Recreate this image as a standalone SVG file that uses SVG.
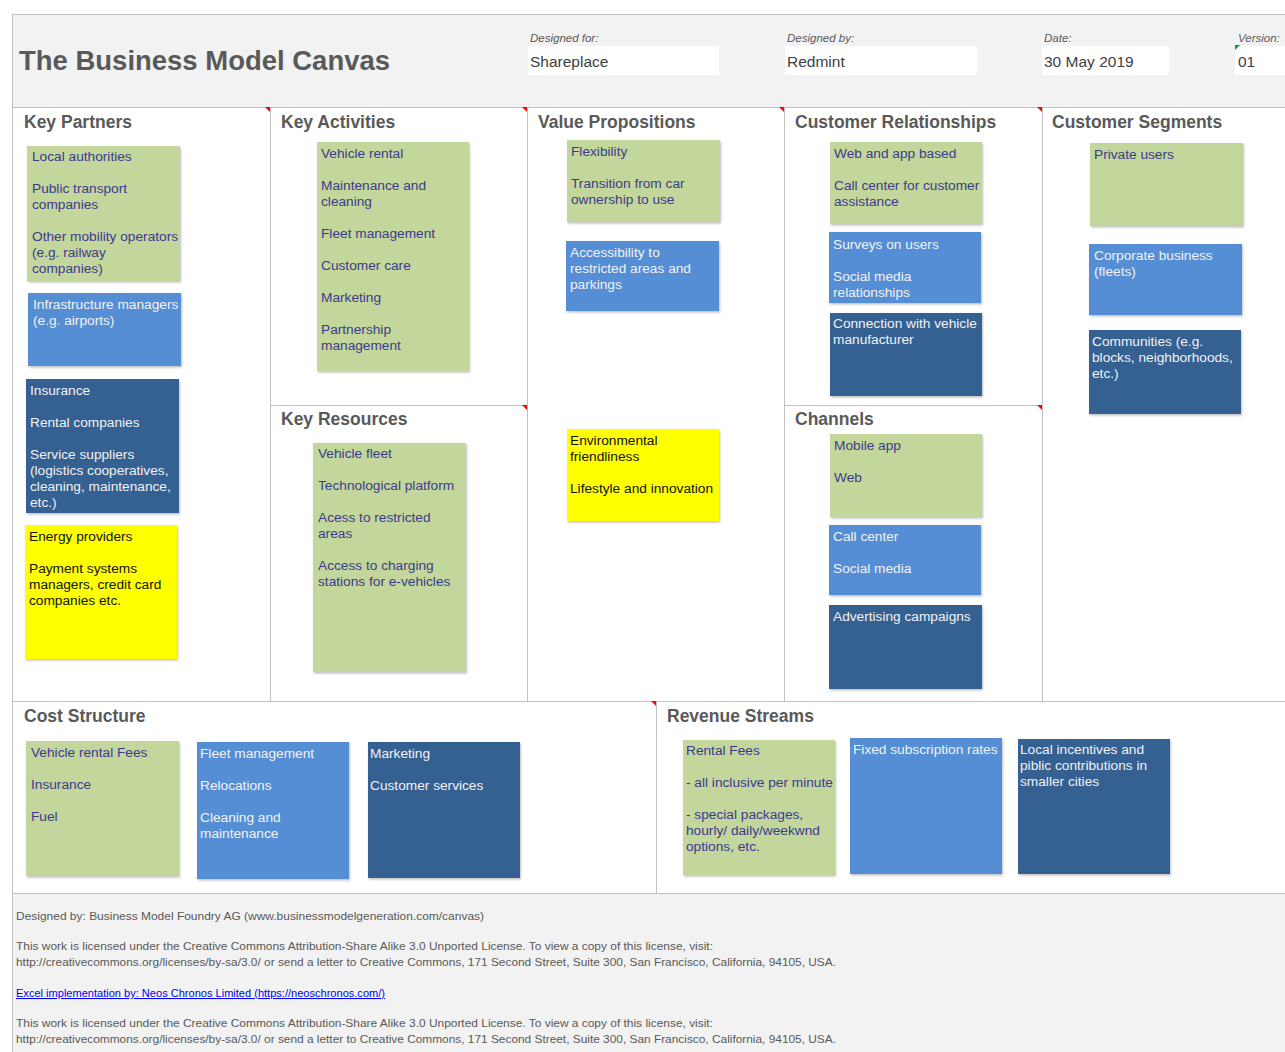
<svg xmlns="http://www.w3.org/2000/svg" width="1285" height="1052" viewBox="0 0 1285 1052">
<defs>
<filter id="sh" x="-5%" y="-5%" width="115%" height="115%">
<feDropShadow dx="1" dy="1.5" stdDeviation="1" flood-color="#000" flood-opacity="0.25"/>
</filter>
</defs>
<style>
.sec{font-family:"Liberation Sans",Arial,sans-serif;font-weight:bold;font-size:17.5px;fill:#595959}
.note{font-family:"Liberation Sans",Arial,sans-serif;font-size:13.7px}
.g rect{fill:#c3d69b}
.g text{fill:#3b3b8e}
.b rect{fill:#558ed5}
.b text{fill:#f2f2f2}
.d rect{fill:#366092}
.d text{fill:#f2f2f2}
.y rect{fill:#ffff00}
.y text{fill:#111}
.lbl{font-family:"Liberation Sans",Arial,sans-serif;font-style:italic;font-size:11.5px;fill:#595959}
.val{font-family:"Liberation Sans",Arial,sans-serif;font-size:15.5px;fill:#404040}
.foot{font-family:"Liberation Sans",Arial,sans-serif;font-size:11px;fill:#595959}
.grid line{stroke:#c0c0c0;stroke-width:1}
.tri{fill:#ff0000}
</style>
<rect x="0" y="0" width="1285" height="1052" fill="#ffffff"/>
<rect x="12" y="14" width="1273" height="93" fill="#f2f2f2"/>
<rect x="12" y="893" width="1273" height="159" fill="#f2f2f2"/>
<g id="header">
<text x="19" y="70" font-family="Liberation Sans, Arial, sans-serif" font-weight="bold" font-size="27" fill="#595959" textLength="371" lengthAdjust="spacingAndGlyphs">The Business Model Canvas</text>
<text class="lbl" x="530" y="42">Designed for:</text>
<rect x="528" y="46" width="191" height="29" fill="#fff"/>
<text class="val" x="530" y="67">Shareplace</text>
<text class="lbl" x="787" y="42">Designed by:</text>
<rect x="785" y="46" width="192" height="29" fill="#fff"/>
<text class="val" x="787" y="67">Redmint</text>
<text class="lbl" x="1044" y="42">Date:</text>
<rect x="1042" y="46" width="127" height="29" fill="#fff"/>
<text class="val" x="1044" y="67">30 May 2019</text>
<text class="lbl" x="1238" y="42">Version:</text>
<rect x="1235" y="46" width="50" height="29" fill="#fff"/>
<text class="val" x="1238" y="67">01</text>
<polygon points="1235,45 1240,45 1235,50" fill="#00a040"/>
</g>
<g class="grid">
<line x1="12" y1="14.5" x2="1285" y2="14.5"/>
<line x1="12.5" y1="14" x2="12.5" y2="1052"/>
<line x1="12" y1="107.5" x2="1285" y2="107.5"/>
<line x1="270.5" y1="107" x2="270.5" y2="701"/>
<line x1="527.5" y1="107" x2="527.5" y2="701"/>
<line x1="784.5" y1="107" x2="784.5" y2="701"/>
<line x1="1042.5" y1="107" x2="1042.5" y2="701"/>
<line x1="270" y1="405.5" x2="527" y2="405.5"/>
<line x1="784" y1="405.5" x2="1042" y2="405.5"/>
<line x1="12" y1="701.5" x2="1285" y2="701.5"/>
<line x1="656.5" y1="701" x2="656.5" y2="893"/>
<line x1="12" y1="893.5" x2="1285" y2="893.5"/>
</g>
<g id="corner-marks">
<polygon class="tri" points="265,107 270,107 270,112"/>
<polygon class="tri" points="522,107 527,107 527,112"/>
<polygon class="tri" points="779,107 784,107 784,112"/>
<polygon class="tri" points="1037,107 1042,107 1042,112"/>
<polygon class="tri" points="522,405 527,405 527,410"/>
<polygon class="tri" points="1037,405 1042,405 1042,410"/>
<polygon class="tri" points="651,701 656,701 656,706"/>
</g>
<g id="connectors"/>
<g id="section-titles">
<text class="sec" x="24" y="128">Key Partners</text>
<text class="sec" x="281" y="128">Key Activities</text>
<text class="sec" x="538" y="128">Value Propositions</text>
<text class="sec" x="795" y="128">Customer Relationships</text>
<text class="sec" x="1052" y="128">Customer Segments</text>
<text class="sec" x="281" y="425">Key Resources</text>
<text class="sec" x="795" y="425">Channels</text>
<text class="sec" x="24" y="722">Cost Structure</text>
<text class="sec" x="667" y="722">Revenue Streams</text>
</g>
<g id="kp-green" class="g note"><rect x="27" y="146" width="153" height="135" filter="url(#sh)"/>
<text x="32" y="161">Local authorities</text><text x="32" y="193">Public transport</text><text x="32" y="209">companies</text><text x="32" y="241">Other mobility operators</text><text x="32" y="257">(e.g. railway</text><text x="32" y="273">companies)</text></g>
<g id="kp-blue" class="b note"><rect x="28" y="293" width="153" height="73" filter="url(#sh)"/>
<text x="33" y="309">Infrastructure managers</text><text x="33" y="325">(e.g. airports)</text></g>
<g id="kp-dark" class="d note"><rect x="26" y="379" width="153" height="134" filter="url(#sh)"/>
<text x="30" y="395">Insurance</text><text x="30" y="427">Rental companies</text><text x="30" y="459">Service suppliers</text><text x="30" y="475">(logistics cooperatives,</text><text x="30" y="491">cleaning, maintenance,</text><text x="30" y="507">etc.)</text></g>
<g id="kp-yellow" class="y note"><rect x="25" y="525" width="152" height="134" filter="url(#sh)"/>
<text x="29" y="541">Energy providers</text><text x="29" y="573">Payment systems</text><text x="29" y="589">managers, credit card</text><text x="29" y="605">companies etc.</text></g>
<g id="ka-green" class="g note"><rect x="317" y="142" width="152" height="229" filter="url(#sh)"/>
<text x="321" y="158">Vehicle rental</text><text x="321" y="190">Maintenance and</text><text x="321" y="206">cleaning</text><text x="321" y="238">Fleet management</text><text x="321" y="270">Customer care</text><text x="321" y="302">Marketing</text><text x="321" y="334">Partnership</text><text x="321" y="350">management</text></g>
<g id="kr-green" class="g note"><rect x="313" y="443" width="153" height="229" filter="url(#sh)"/>
<text x="318" y="458">Vehicle fleet</text><text x="318" y="490">Technological  platform</text><text x="318" y="522">Acess to restricted</text><text x="318" y="538">areas</text><text x="318" y="570">Access to charging</text><text x="318" y="586">stations for e-vehicles</text></g>
<g id="vp-green" class="g note"><rect x="567" y="140" width="153" height="82" filter="url(#sh)"/>
<text x="571" y="156">Flexibility</text><text x="571" y="188">Transition from car</text><text x="571" y="204">ownership to use</text></g>
<g id="vp-blue" class="b note"><rect x="566" y="241" width="153" height="70" filter="url(#sh)"/>
<text x="570" y="257">Accessibility to</text><text x="570" y="273">restricted areas and</text><text x="570" y="289">parkings</text></g>
<g id="vp-yellow" class="y note"><rect x="567" y="429" width="152" height="92" filter="url(#sh)"/>
<text x="570" y="445">Environmental</text><text x="570" y="461">friendliness</text><text x="570" y="493">Lifestyle and innovation</text></g>
<g id="cr-green" class="g note"><rect x="830" y="142" width="152" height="82" filter="url(#sh)"/>
<text x="834" y="158">Web and app based</text><text x="834" y="190">Call center for customer</text><text x="834" y="206">assistance</text></g>
<g id="cr-blue" class="b note"><rect x="829" y="232" width="152" height="71" filter="url(#sh)"/>
<text x="833" y="249">Surveys on users</text><text x="833" y="281">Social media</text><text x="833" y="297">relationships</text></g>
<g id="cr-dark" class="d note"><rect x="830" y="313" width="152" height="83" filter="url(#sh)"/>
<text x="833" y="328">Connection with vehicle</text><text x="833" y="344">manufacturer</text></g>
<g id="ch-green" class="g note"><rect x="830" y="434" width="152" height="83" filter="url(#sh)"/>
<text x="834" y="450">Mobile app</text><text x="834" y="482">Web</text></g>
<g id="ch-blue" class="b note"><rect x="829" y="525" width="152" height="70" filter="url(#sh)"/>
<text x="833" y="541">Call center</text><text x="833" y="573">Social media</text></g>
<g id="ch-dark" class="d note"><rect x="829" y="605" width="153" height="84" filter="url(#sh)"/>
<text x="833" y="621">Advertising campaigns</text></g>
<g id="cs-green" class="g note"><rect x="1090" y="143" width="153" height="83" filter="url(#sh)"/>
<text x="1094" y="159">Private users</text></g>
<g id="cs-blue" class="b note"><rect x="1089" y="244" width="153" height="71" filter="url(#sh)"/>
<text x="1094" y="260">Corporate business</text><text x="1094" y="276">(fleets)</text></g>
<g id="cs-dark" class="d note"><rect x="1089" y="330" width="152" height="84" filter="url(#sh)"/>
<text x="1092" y="346">Communities (e.g.</text><text x="1092" y="362">blocks, neighborhoods,</text><text x="1092" y="378">etc.)</text></g>
<g id="cost-green" class="g note"><rect x="26" y="741" width="153" height="135" filter="url(#sh)"/>
<text x="31" y="757">Vehicle rental Fees</text><text x="31" y="789">Insurance</text><text x="31" y="821">Fuel</text></g>
<g id="cost-blue" class="b note"><rect x="197" y="742" width="152" height="137" filter="url(#sh)"/>
<text x="200" y="758">Fleet management</text><text x="200" y="790">Relocations</text><text x="200" y="822">Cleaning and</text><text x="200" y="838">maintenance</text></g>
<g id="cost-dark" class="d note"><rect x="368" y="742" width="152" height="136" filter="url(#sh)"/>
<text x="370" y="758">Marketing</text><text x="370" y="790">Customer services</text></g>
<g id="rev-green" class="g note"><rect x="683" y="740" width="152" height="135" filter="url(#sh)"/>
<text x="686" y="755">Rental Fees</text><text x="686" y="787">- all inclusive per minute</text><text x="686" y="819">- special packages,</text><text x="686" y="835">hourly/ daily/weekwnd</text><text x="686" y="851">options, etc.</text></g>
<g id="rev-blue" class="b note"><rect x="850" y="738" width="152" height="136" filter="url(#sh)"/>
<text x="853" y="754">Fixed subscription rates</text></g>
<g id="rev-dark" class="d note"><rect x="1018" y="739" width="152" height="135" filter="url(#sh)"/>
<text x="1020" y="754">Local incentives and</text><text x="1020" y="770">piblic contributions in</text><text x="1020" y="786">smaller cities</text></g>
<g id="footer">
<text class="foot" x="16" y="920" textLength="468" lengthAdjust="spacingAndGlyphs">Designed by: Business Model Foundry AG (www.businessmodelgeneration.com/canvas)</text>
<text class="foot" x="16" y="950" textLength="697" lengthAdjust="spacingAndGlyphs">This work is licensed under the Creative Commons Attribution-Share Alike 3.0 Unported License. To view a copy of this license, visit:</text>
<text class="foot" x="16" y="966" textLength="820" lengthAdjust="spacingAndGlyphs">http://creativecommons.org/licenses/by-sa/3.0/ or send a letter to Creative Commons, 171 Second Street, Suite 300, San Francisco, California, 94105, USA.</text>
<text x="16" y="997" font-family="Liberation Sans, Arial, sans-serif" font-size="10.5" fill="#0000ee" text-decoration="underline" textLength="369" lengthAdjust="spacingAndGlyphs">Excel implementation by: Neos Chronos Limited (https://neoschronos.com/)</text>
<text class="foot" x="16" y="1027" textLength="697" lengthAdjust="spacingAndGlyphs">This work is licensed under the Creative Commons Attribution-Share Alike 3.0 Unported License. To view a copy of this license, visit:</text>
<text class="foot" x="16" y="1043" textLength="820" lengthAdjust="spacingAndGlyphs">http://creativecommons.org/licenses/by-sa/3.0/ or send a letter to Creative Commons, 171 Second Street, Suite 300, San Francisco, California, 94105, USA.</text>
</g>
</svg>
